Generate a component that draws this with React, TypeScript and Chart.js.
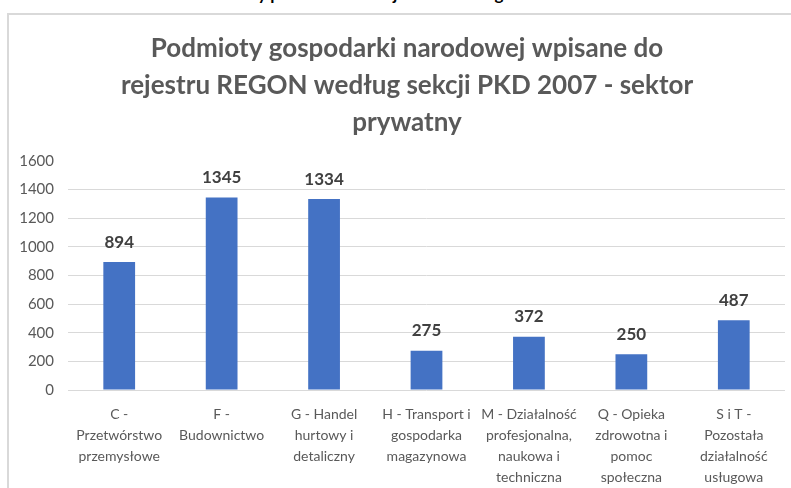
import React, { useEffect, useRef } from "react";
import { Chart, registerables } from "chart.js";

Chart.register(...registerables);

const categories: string[][] = [
  ["C -", "Przetwórstwo", "przemysłowe"],
  ["F -", "Budownictwo"],
  ["G - Handel", "hurtowy i", "detaliczny"],
  ["H - Transport i", "gospodarka", "magazynowa"],
  ["M - Działalność", "profesjonalna,", "naukowa i", "techniczna"],
  ["Q - Opieka", "zdrowotna i", "pomoc", "społeczna"],
  ["S i T -", "Pozostała", "działalność", "usługowa"],
];

const values: number[] = [894, 1345, 1334, 275, 372, 250, 487];

const titleLines: string[] = [
  "Podmioty gospodarki narodowej wpisane do",
  "rejestru REGON według sekcji PKD 2007 - sektor",
  "prywatny",
];

const yMin = 0;
const yMax = 1600;
const yStep = 200;

const FONT = "Lato, 'Open Sans', sans-serif";

const dataLabelPlugin = {
  id: "dataLabels",
  afterDatasetsDraw(chart: any) {
    const ctx = chart.ctx;
    const meta = chart.getDatasetMeta(0);
    ctx.save();
    ctx.font = `bold 17px ${FONT}`;
    ctx.fillStyle = "#404040";
    ctx.textAlign = "center";
    ctx.textBaseline = "middle";
    meta.data.forEach((el: any, i: number) => {
      ctx.fillText(String(values[i]), el.x, el.y - 20);
    });
    ctx.restore();
  },
};

const titlePlugin = {
  id: "centeredTitle",
  afterDraw(chart: any) {
    const ctx = chart.ctx;
    ctx.save();
    ctx.font = `bold 26px ${FONT}`;
    ctx.fillStyle = "#595959";
    ctx.textAlign = "center";
    ctx.textBaseline = "middle";
    const cx = chart.width / 2;
    titleLines.forEach((line, i) => {
      ctx.fillText(line, cx, 34 + i * 37);
    });
    ctx.restore();
  },
};

export default function App() {
  const ref = useRef<HTMLCanvasElement | null>(null);

  useEffect(() => {
    if (!ref.current) return;
    const chart = new Chart(ref.current, {
      type: "bar",
      data: {
        labels: categories,
        datasets: [
          {
            data: values,
            backgroundColor: "#4472C4",
            borderWidth: 0,
            barPercentage: 0.31,
            categoryPercentage: 1,
          },
        ],
      },
      options: {
        animation: false,
        responsive: false,
        maintainAspectRatio: false,
        layout: { padding: { left: 0, right: 20, top: 146, bottom: 6 } },
        plugins: {
          legend: { display: false },
          tooltip: { enabled: false },
          title: { display: false },
        },
        scales: {
          y: {
            min: yMin,
            max: yMax,
            afterFit: (scale: any) => {
              scale.width = 59;
            },
            ticks: {
              stepSize: yStep,
              color: "#595959",
              font: { family: FONT, size: 15 },
              padding: 14,
              callback: (v: any) => String(v),
            },
            grid: {
              color: (ctx: any) =>
                ctx.tick && ctx.tick.value === yMax ? "rgba(0,0,0,0)" : "#d9d9d9",
              drawTicks: false,
              lineWidth: 1,
            },
            border: { display: false },
          },
          x: {
            grid: { display: false },
            border: { display: false },
            ticks: {
              color: "#595959",
              font: { family: FONT, size: 14, lineHeight: 1.5 },
              padding: 6,
              maxRotation: 0,
              minRotation: 0,
              autoSkip: false,
            },
          },
        },
      },
      plugins: [dataLabelPlugin, titlePlugin],
    });
    return () => chart.destroy();
  }, []);

  return (
    <div
      style={{
        position: "fixed",
        left: 0,
        top: 0,
        width: 791,
        height: 488,
        overflow: "hidden",
        background: "#ffffff",
      }}
    >
      <div
        style={{
          position: "absolute",
          left: 0,
          top: -16,
          width: 791,
          textAlign: "center",
          font: `bold 17px ${FONT}`,
          lineHeight: "20px",
          color: "#000000",
          whiteSpace: "nowrap",
        }}
      >
        Struktury podmiotów w rejestrze według działalności
      </div>
      <div
        style={{
          position: "absolute",
          left: 7,
          top: 13,
          width: 820,
          height: 520,
          border: "2px solid #d9d9d9",
          boxSizing: "border-box",
        }}
      />
      <div style={{ position: "absolute", left: 9, top: 15, width: 796, height: 485 }}>
        <canvas ref={ref} width={796} height={485} style={{ width: 796, height: 485 }} />
      </div>
    </div>
  );
}
